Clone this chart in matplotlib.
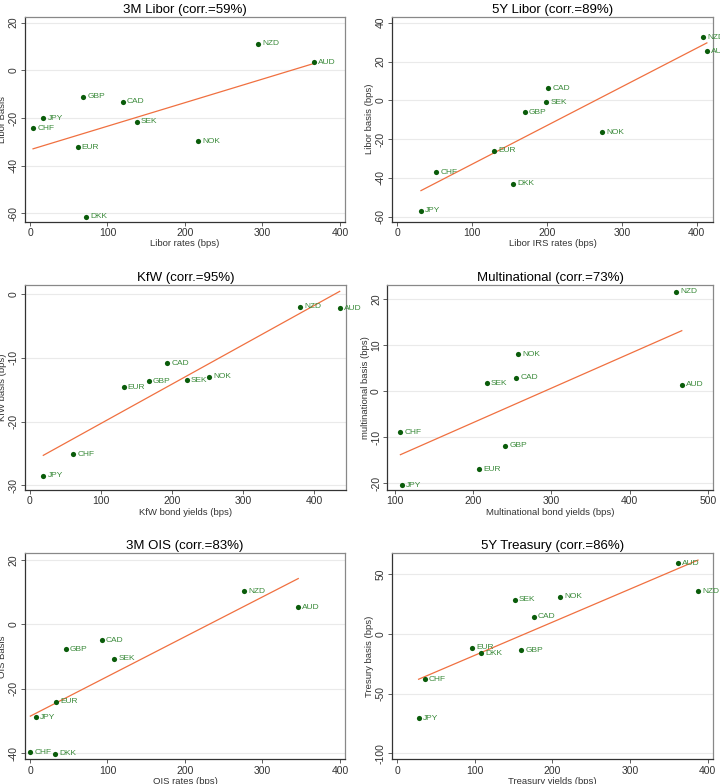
import numpy as np
import matplotlib
matplotlib.use("Agg")
import matplotlib.pyplot as plt

# ---- data ----
ccy_3m_libor = ["NZD", "AUD", "GBP", "CAD", "JPY", "CHF", "SEK", "EUR", "NOK", "DKK"]
x_3m_libor = [294.6, 366.9, 68.4, 119.6, 17.2, 3.9, 138.0, 61.5, 217.0, 72.7]
y_3m_libor = [11.2, 3.4, -11.0, -13.1, -20.0, -24.3, -21.5, -32.3, -29.8, -61.4]

ccy_5y_libor = ["NZD", "AUD", "CAD", "SEK", "GBP", "NOK", "EUR", "CHF", "DKK", "JPY"]
x_5y_libor = [408.9, 413.4, 201.8, 199.1, 170.2, 273.0, 129.2, 52.1, 155.0, 31.6]
y_5y_libor = [32.4, 25.2, 6.2, -1.1, -6.2, -16.4, -25.9, -37.2, -42.9, -57.0]

ccy_kfw = ["NZD", "AUD", "CAD", "NOK", "SEK", "GBP", "EUR", "CHF", "JPY"]
x_kfw = [380.3, 436.2, 193.0, 252.0, 220.7, 167.0, 132.0, 61.0, 18.8]
y_kfw = [-2.0, -2.2, -10.9, -13.0, -13.5, -13.7, -14.6, -25.1, -28.5]

ccy_multi = ["NZD", "NOK", "CAD", "SEK", "AUD", "CHF", "GBP", "EUR", "JPY"]
x_multi = [459.9, 256.9, 255.2, 217.3, 466.7, 106.8, 240.7, 207.5, 109.0]
y_multi = [21.6, 8.0, 2.9, 1.7, 1.4, -8.9, -11.8, -17.0, -20.4]

ccy_ois = ["NZD", "AUD", "CAD", "GBP", "SEK", "EUR", "JPY", "CHF", "DKK"]
x_ois = [276.6, 346.2, 92.5, 46.0, 108.4, 33.5, 7.3, 0.4, 32.7]
y_ois = [10.3, 5.3, -4.9, -7.7, -10.6, -24.0, -28.8, -39.6, -40.1]

ccy_tsy = ["AUD", "NZD", "NOK", "SEK", "CAD", "EUR", "DKK", "GBP", "CHF", "JPY"]
x_tsy = [361.3, 387.5, 209.7, 151.2, 175.7, 96.7, 107.8, 159.8, 35.2, 27.5]
y_tsy = [59.1, 35.4, 30.9, 28.4, 14.2, -11.7, -16.2, -13.7, -38.2, -70.8]

panels = [
    ("3M Libor (corr.=59%)", "Libor rates (bps)", "Libor Basis",
     ccy_3m_libor, x_3m_libor, y_3m_libor,
     [0, 100, 200, 300, 400], [-60, -40, -20, 0, 20], (-6.5, 406.5), (-63.5, 22.5),
     [0.0347, 0.7172, 0.4444, 0.2615]),
    ("5Y Libor (corr.=89%)", "Libor IRS rates (bps)", "Libor basis (bps)",
     ccy_5y_libor, x_5y_libor, y_5y_libor,
     [0, 100, 200, 300, 400], [-60, -40, -20, 0, 20, 40], (-7.5, 422), (-62.6, 43.1),
     [0.544, 0.7172, 0.4467, 0.2615]),
    ("KfW (corr.=95%)", "KfW bond yields (bps)", "KfW basis (bps)",
     ccy_kfw, x_kfw, y_kfw,
     [0, 100, 200, 300, 400], [-30, -20, -10, 0], (-7, 444.6), (-30.74, 1.41),
     [0.0347, 0.375, 0.4454, 0.2615]),
    ("Multinational (corr.=73%)", "Multinational bond yields (bps)", "multinational basis (bps)",
     ccy_multi, x_multi, y_multi,
     [100, 200, 300, 400, 500], [-20, -10, 0, 10, 20], (90.1, 506.4), (-21.45, 23.04),
     [0.538, 0.375, 0.452, 0.2615]),
    ("3M OIS (corr.=83%)", "OIS rates (bps)", "OIS Basis",
     ccy_ois, x_ois, y_ois,
     [0, 100, 200, 300, 400], [-40, -20, 0, 20], (-6.5, 406.5), (-41.86, 22.08),
     [0.0347, 0.0315, 0.4444, 0.2628]),
    ("5Y Treasury (corr.=86%)", "Treasury yields (bps)", "Tresury basis (bps)",
     ccy_tsy, x_tsy, y_tsy,
     [0, 100, 200, 300, 400], [-100, -50, 0, 50], (-7.2, 406.4), (-105, 67.3),
     [0.544, 0.0315, 0.4458, 0.2628]),
]

plt.rcParams['font.family'] = ['Liberation Sans', 'DejaVu Sans']
fig = plt.figure(figsize=(7.2, 7.84), dpi=100)
fig.patch.set_facecolor("white")

for title, xlab, ylab, ccy, xs, ys, xt, yt, xl, yl, pos in panels:
    ax = fig.add_axes(pos)
    xs = np.array(xs)
    ys = np.array(ys)
    # horizontal grid
    for v in yt:
        ax.axhline(v, color="#eaeaea", lw=0.8, zorder=0)
    # linear fit
    b, a = np.polyfit(xs, ys, 1)
    fx = np.array([xs.min(), xs.max()])
    ax.plot(fx, a + b * fx, color="#f07040", lw=0.9, zorder=2)
    ax.scatter(xs, ys, s=14, color="#0a5c0a", zorder=3, linewidths=0)
    for c, x, y in zip(ccy, xs, ys):
        ax.annotate(c, (x, y), xytext=(3, 0), textcoords="offset points",
                    fontsize=6, color="#3a8a3a", va="center", ha="left",
                    annotation_clip=False, zorder=4)
    ax.set_xlim(xl)
    ax.set_ylim(yl)
    ax.set_xticks(xt)
    ax.set_yticks(yt)
    ax.set_yticklabels([str(v) for v in yt], rotation=90, va="center")
    ax.tick_params(labelsize=7.5, length=3, width=0.6, color="#444444",
                   labelcolor="#333333", pad=1.5)
    for s in ["top", "right"]:
        ax.spines[s].set_color("#888888")
        ax.spines[s].set_linewidth(0.9)
    for s in ["left", "bottom"]:
        ax.spines[s].set_color("#333333")
        ax.spines[s].set_linewidth(0.9)
    ax.set_title(title, fontsize=9.5, pad=3)
    ax.set_xlabel(xlab, fontsize=6.8, color="#333333", labelpad=1)
    ax.set_ylabel(ylab, fontsize=6.8, color="#333333", labelpad=1)

fig.savefig("out.png", dpi=100)
